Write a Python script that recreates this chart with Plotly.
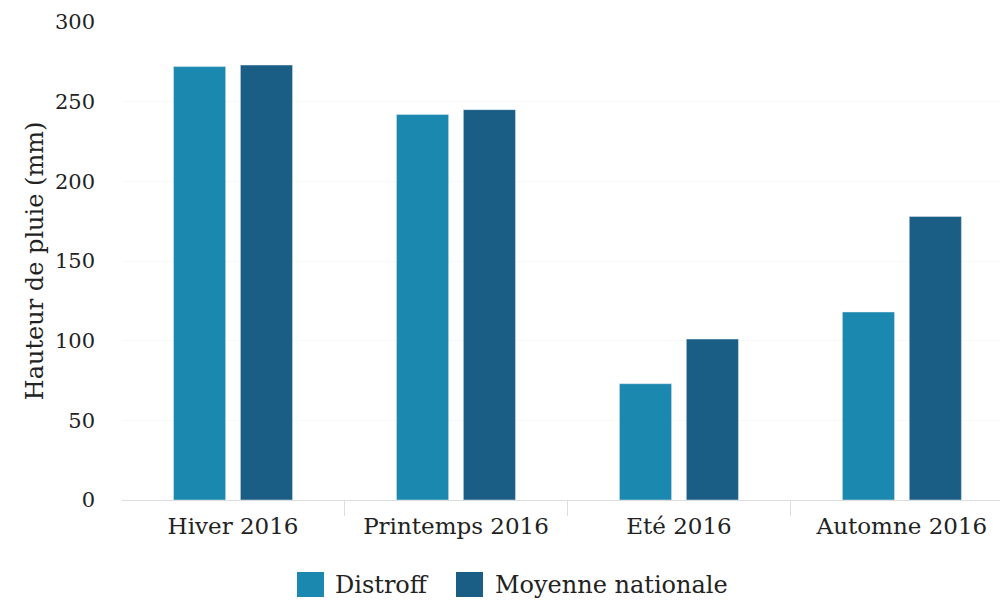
import plotly.graph_objects as go

categories = ["Hiver 2016", "Printemps 2016", "Eté 2016", "Automne 2016"]
distroff = [272, 242, 73, 118]
moyenne = [273, 245, 101, 178]
series_names = ["Distroff", "Moyenne nationale"]
y_ticks = [0, 50, 100, 150, 200, 250, 300]

c1 = "#1b88af"
c2 = "#1a5e86"
colors = [c1, c2]
font = "DejaVu Serif"

W, H = 1000, 602
ml, mr, mt, mb = 122, 0, 22, 102

fig = go.Figure()
fig.add_trace(go.Bar(x=categories, y=distroff, name=series_names[0], marker_color=c1, showlegend=False))
fig.add_trace(go.Bar(x=categories, y=moyenne, name=series_names[1], marker_color=c2, showlegend=False))

# custom legend (larger squares like the reference)
pw, ph = W - ml - mr, H - mt - mb
def px_x(p):
    return (p - ml) / pw
def px_y(p):
    return (H - mb - p) / ph

leg_items = [(297, 333), (456, 493)]
for (sx, tx), name, col in zip(leg_items, series_names, colors):
    fig.add_shape(type="rect", xref="paper", yref="paper",
                  x0=px_x(sx), x1=px_x(sx + 27), y0=px_y(597), y1=px_y(572),
                  fillcolor=col, line=dict(width=0))
    fig.add_annotation(xref="paper", yref="paper", x=px_x(tx), y=px_y(585),
                       xanchor="left", yanchor="middle", text=name, showarrow=False,
                       font=dict(size=24, family=font, color="#222"))

fig.update_layout(
    width=W, height=H,
    margin=dict(l=ml, r=mr, t=mt, b=mb),
    paper_bgcolor="white", plot_bgcolor="white",
    barmode="group", bargap=0.4, bargroupgap=0.22,
    font=dict(family=font, color="#222", size=20),
    showlegend=False,
    xaxis=dict(range=[-0.498, 3.44], showline=True, linecolor="#ddd", linewidth=1,
               ticks="outside", tickcolor="#ddd", ticklen=15, tickson="boundaries",
               ticklabelstandoff=5,
               showgrid=False, tickfont=dict(size=23, family=font)),
    yaxis=dict(range=[0, 300], tickvals=y_ticks, showgrid=True, gridcolor="#f8f8f8",
               zeroline=False, showline=False, ticklabelstandoff=26,
               title=dict(text="Hauteur de pluie (mm)", font=dict(size=24, family=font), standoff=4),
               tickfont=dict(size=21, family=font)),
)

fig.write_html("out.html")
